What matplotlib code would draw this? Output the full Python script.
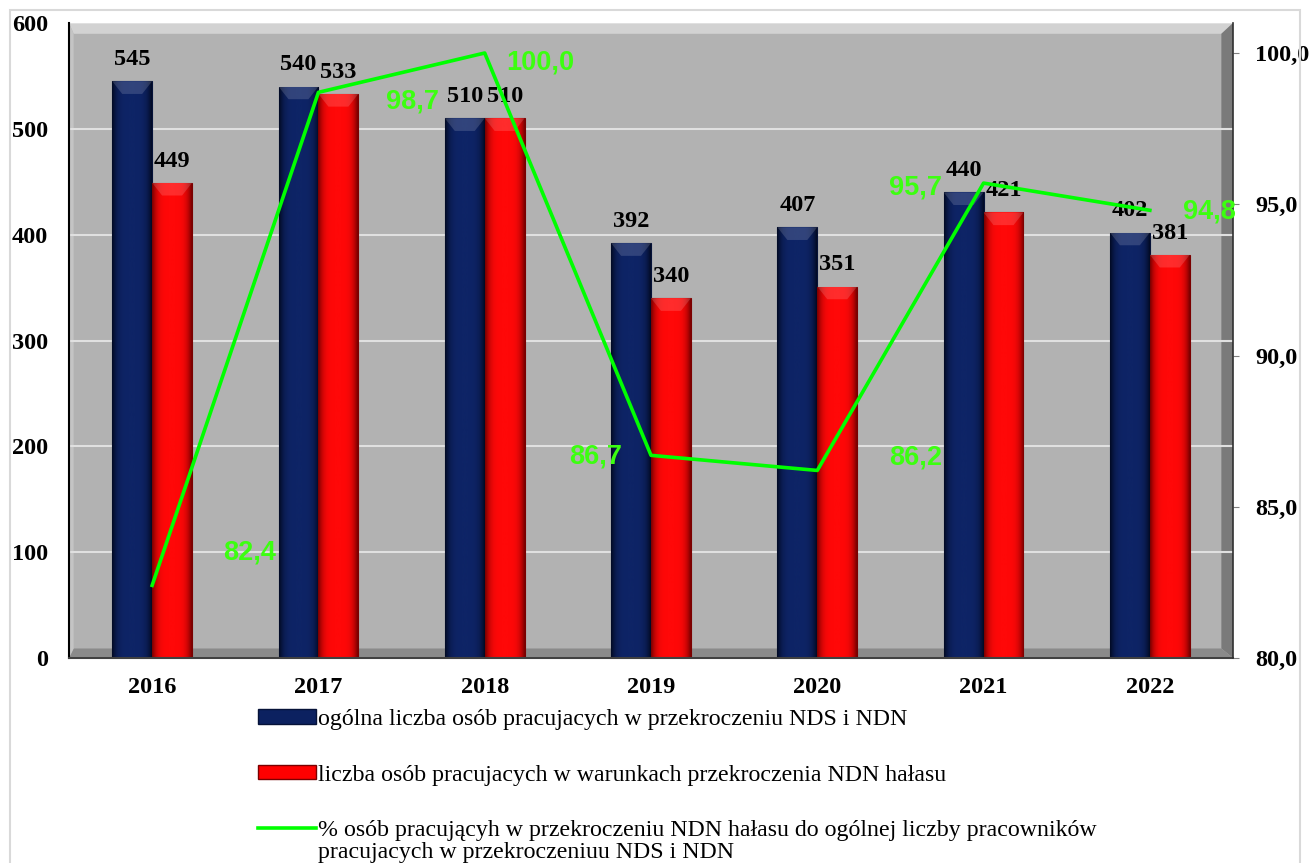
import numpy as np
import matplotlib.pyplot as plt
from matplotlib.patches import Rectangle, Polygon
from matplotlib.lines import Line2D
from matplotlib.colors import LinearSegmentedColormap

years = ['2016', '2017', '2018', '2019', '2020', '2021', '2022']
ogolna = [545, 540, 510, 392, 407, 440, 402]
halas = [449, 533, 510, 340, 351, 421, 381]
procent = [82.4, 98.7, 100.0, 86.7, 86.2, 95.7, 94.8]
procent_txt = ['82,4', '98,7', '100,0', '86,7', '86,2', '95,7', '94,8']

# przesuniecia etykiet procentowych (w punktach)
lab_off = [(70, 24), (68, -6.5), (40, -7), (-40, -1), (71, 9), (-49, -3.5), (43, -1)]

serif = 'Liberation Serif'
sans = 'Liberation Sans'

fig = plt.figure(figsize=(13.09, 8.63), dpi=100)
fig.patches.append(Rectangle((10/1309, -0.1), 1290/1309, 1.1 - 10/863,
                             transform=fig.transFigure, fill=False,
                             edgecolor='#d9d9d9', linewidth=1.5))

ax = fig.add_axes([69/1309, 1 - 658/863, 1164/1309, 635/863])
ax.set_facecolor('#b2b2b2')
x = np.arange(len(years))
w = 0.24

# ramka "3D" tla
ta = ax.transAxes
ax.add_patch(Polygon([(0, 1), (1, 1), (0.99, 0.983), (0.004, 0.983)], closed=True,
                     transform=ta, facecolor='#d2d2d2', edgecolor='none', zorder=0.5))
ax.add_patch(Polygon([(1, 1), (1, 0), (0.99, 0.015), (0.99, 0.983)], closed=True,
                     transform=ta, facecolor='#7a7a7a', edgecolor='none', zorder=0.5))
ax.add_patch(Polygon([(0, 0), (1, 0), (0.99, 0.015), (0.004, 0.015)], closed=True,
                     transform=ta, facecolor='#8a8a8a', edgecolor='none', zorder=0.5))
ax.add_patch(Polygon([(0, 0), (0, 1), (0.004, 0.983), (0.004, 0.015)], closed=True,
                     transform=ta, facecolor='#c4c4c4', edgecolor='none', zorder=0.5))

ax.set_axisbelow(True)
ax.yaxis.grid(True, color='#e0e0e0', linewidth=1.5, zorder=1)

b1 = ax.bar(x - w/2, ogolna, w, color='#0c2160', edgecolor='#061238', linewidth=0.8, zorder=2)
b2 = ax.bar(x + w/2, halas, w, color='#ff0000', edgecolor='#7a0000', linewidth=0.8, zorder=2)

# cieniowanie slupkow
grad = np.abs(np.linspace(-1, 1, 50))[None, :]
for bars, cmapcols in [(b1, ['#0e2466', '#020a24']), (b2, ['#ff0808', '#7a0000'])]:
    cm = LinearSegmentedColormap.from_list('g', cmapcols)
    for b in bars:
        x0, h, bw = b.get_x(), b.get_height(), b.get_width()
        im = ax.imshow(grad ** 4, cmap=cm, aspect='auto', extent=(x0, x0 + bw, 0, h),
                       zorder=2.1, interpolation='bicubic')
        im.set_clip_path(b)
        tri_h = 12
        ax.add_patch(Polygon([(x0, h), (x0 + bw, h), (x0 + bw*0.75, h - tri_h), (x0 + bw*0.25, h - tri_h)],
                             closed=True, facecolor='white', alpha=0.15, edgecolor='none', zorder=2.2))

for xi, v in zip(x, ogolna):
    ax.annotate(str(v), (xi - w/2, v), xytext=(0, 8), textcoords='offset points',
                ha='center', va='bottom', fontsize=17.5, fontweight='bold', family=serif, zorder=5)
for xi, v in zip(x, halas):
    ax.annotate(str(v), (xi + w/2, v), xytext=(0, 8), textcoords='offset points',
                ha='center', va='bottom', fontsize=17.5, fontweight='bold', family=serif, zorder=5)

ax.set_xlim(-0.5, 6.5)
ax.set_ylim(0, 600)
ax.set_yticks(range(0, 601, 100))
ax.set_xticks(x)
ax.set_xticklabels(years)
ax.tick_params(axis='y', length=0, pad=15)
ax.tick_params(axis='x', length=0, pad=14)
for lab in ax.get_xticklabels() + ax.get_yticklabels():
    lab.set_fontsize(17.5)
    lab.set_fontweight('bold')
    lab.set_family(serif)
for s in ['top', 'right']:
    ax.spines[s].set_visible(False)
ax.spines['left'].set_linewidth(1.5)
ax.spines['bottom'].set_linewidth(1.5)
ax.spines['bottom'].set_color('#404040')

ax2 = ax.twinx()
ax2.set_ylim(80, 80 + 20 * 635 / 605)
ax2.set_yticks([80, 85, 90, 95, 100])
ax2.set_yticklabels(['80,0', '85,0', '90,0', '95,0', '100,0'])
for lab in ax2.get_yticklabels():
    lab.set_fontsize(17.5)
    lab.set_fontweight('bold')
    lab.set_family(serif)
ax2.tick_params(axis='y', length=4, color='#808080', pad=12)
for s in ['top', 'left', 'bottom']:
    ax2.spines[s].set_visible(False)
ax2.spines['right'].set_color('#303030')
ax2.spines['right'].set_linewidth(1.2)

ax2.plot(x, procent, color='#00ff00', linewidth=2.6, zorder=4)
for xi, v, t, off in zip(x, procent, procent_txt, lab_off):
    ax2.annotate(t, (xi, v), xytext=off, textcoords='offset points', ha='center', va='center',
                 fontsize=19.5, fontweight='bold', family=sans, color='#3cff10')

# legenda
h1 = Rectangle((0, 0), 1, 1, facecolor='#0c2160', edgecolor='#061238')
h2 = Rectangle((0, 0), 1, 1, facecolor='#ff0000', edgecolor='#7a0000')
h3 = Line2D([], [], color='#00ff00', linewidth=2.6)
labels = ['ogólna liczba osób pracujacych w przekroczeniu NDS i NDN',
          'liczba osób pracujacych w warunkach przekroczenia NDN hałasu',
          '% osób pracującyh w przekroczeniu NDN hałasu do ogólnej liczby pracowników']
fig.legend([h1, h2, h3], labels, loc='upper left', bbox_to_anchor=(246/1309, 1 - 697/863),
           frameon=False, prop={'family': serif, 'size': 17.2}, handlelength=2.45,
           handleheight=0.55, handletextpad=0.05, labelspacing=1.45, borderpad=0)
fig.text(318/1309, 1 - 852/863, 'pracujacych w przekroczeniuu NDS i NDN', family=serif,
         fontsize=17.2, ha='left', va='center')

fig.savefig('out.png', dpi=100)
